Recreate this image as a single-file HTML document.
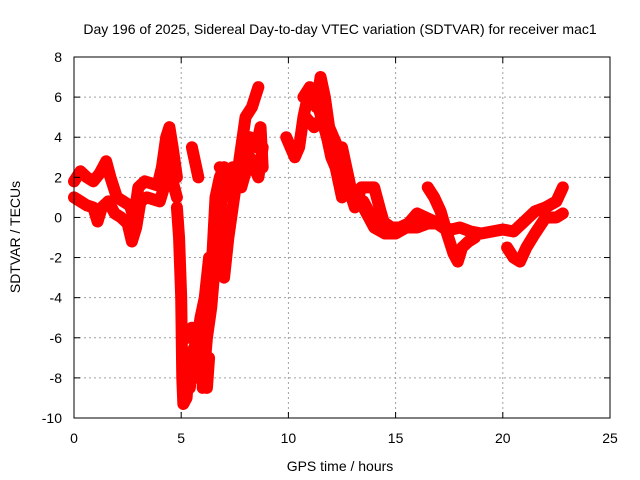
<!DOCTYPE html>
<html><head><meta charset="utf-8"><style>
body{margin:0;background:#fff;}
svg{display:block;font-family:"Liberation Sans",sans-serif;}
</style></head><body>
<svg id="chart" width="640" height="480" viewBox="0 0 640 480" xmlns="http://www.w3.org/2000/svg">
<rect width="640" height="480" fill="#fff"/>
<text x="340" y="34" text-anchor="middle" font-size="14">Day 196 of 2025, Sidereal Day-to-day VTEC variation (SDTVAR) for receiver mac1</text>
<g id="grid"></g>
<g id="series"></g>
<rect x="74" y="57" width="536" height="361" fill="none" stroke="#000" stroke-width="1"/>
<g id="ticks"></g>
<text x="340" y="471" text-anchor="middle" font-size="14">GPS time / hours</text>
<text transform="translate(20,237) rotate(-90)" text-anchor="middle" font-size="14">SDTVAR / TECUs</text>
</svg>
<script>
const xTicks=[0,5,10,15,20,25];
const yTicks=[-10,-8,-6,-4,-2,0,2,4,6,8];
const trackNames=["upper-band","lower-band","dip-a","dip-b","short-a","rise-a","rise-b","main-late","upper-late","bump-17","dip-20","dip-c","dip-d","cluster-8","cluster-11","late-lower"];
const trackT=[
[0,0.3,0.6,0.9,1.2,1.5,1.7,2.0,2.3,2.6,2.8,3.0,3.3,3.6,3.9,4.1,4.3,4.45,4.6,4.8],
[0,0.3,0.6,0.9,1.1,1.3,1.6,1.9,2.2,2.5,2.7,2.9,3.1,3.4,3.7,4.0,4.2,4.4,4.6,4.8],
[4.8,4.9,5.0,5.05,5.1,5.25,5.4,5.6,5.8,6.0,6.2,6.4,6.5,6.6,6.8,7.0],
[6.0,6.2,6.4,6.6,6.8,6.9,7.0],
[5.5,5.6,5.7,5.8],
[6.8,7.0,7.2,7.5,7.8,8.0,8.2,8.5,8.7,8.8],
[7.0,7.2,7.4,7.6,7.8,8.0,8.3,8.6],
[9.9,10.1,10.3,10.5,10.7,10.9,11.1,11.3,11.5,11.7,11.9,12.1,12.3,12.5,12.7,12.9,13.2,13.5,13.8,14.1,14.4,14.8,15.2,15.6,16.0,16.4,16.8,17.2,17.6,18.0,18.5,19.0,19.5,20.0,20.5,21.0,21.5,22.0,22.5,22.8],
[10.7,11.0,11.4,11.8,12.2,12.5,12.8,13.1,13.4,13.7,14.0,14.3,14.6],
[16.5,16.8,17.1,17.4,17.7,17.9,18.1,18.4,18.7],
[20.2,20.5,20.8,21.1,21.5,22.0,22.5,22.8],
[5.2,5.4,5.6,5.8,6.0,6.2,6.3],
[5.1,5.3,5.5,5.7,5.9,6.1,6.3],
[7.0,7.4,7.8,8.2,8.6,8.8],
[10.8,11.2,11.6,12.0,12.4],
[13.5,14.0,14.5,15.0,15.5,16.0,16.5,17.0]
];
const trackV=[
[1.8,2.3,2.0,1.8,2.2,2.8,2.0,1.0,0.8,0.6,0.0,1.5,1.8,1.7,1.6,2.5,4.0,4.5,3.5,2.0],
[1.0,0.8,0.6,0.5,-0.2,0.5,0.8,0.2,0.0,-0.3,-1.2,-0.5,0.8,1.0,0.9,0.8,1.5,2.5,1.8,1.0],
[0.5,-1,-4,-8,-9.3,-9.0,-7,-6.5,-8,-7,-5,-3,-1,1,2,2.5],
[-8.5,-6,-4.5,-2,-0.5,1.5,2.5],
[3.5,3.0,2.5,2.0],
[2.5,2.2,1.5,2.0,3.0,2.5,4.0,3.5,4.5,2.5],
[-3,-1,0.5,2,3.5,5,5.5,6.5],
[4,3.5,3,3.5,5,6,6,5.5,7,6,4.5,4,3.5,3.5,2.5,1.5,1.0,0.8,0.2,-0.5,-0.2,-0.5,-0.5,-0.3,0.2,0.0,-0.2,-0.5,-0.6,-0.5,-0.7,-0.8,-0.7,-0.6,-0.7,-0.2,0.3,0.5,0.8,1.5],
[6,6.5,5.5,4,2.5,1.0,1.5,0.5,1.5,1.5,1.5,0.3,-0.8],
[1.5,1.0,0.3,-0.8,-1.8,-2.2,-1.5,-1.2,-1.0],
[-1.5,-2.0,-2.2,-1.5,-0.8,0,0.0,0.2],
[-7.5,-8.5,-7,-6,-7.5,-8.5,-7],
[-5.5,-6,-5.5,-6.5,-5,-4,-2],
[1.0,2.5,1.5,3.0,2.0,3.5],
[5.0,4.5,5.0,3.0,2.0],
[0.5,-0.5,-0.8,-0.8,-0.5,-0.5,-0.3,-0.3]
];
const X0=74,X1=610,Y0=418,Y1=57;
function xs(t){return X0+(t-0)/(25-0)*(X1-X0);}
function ys(v){return Y0-(v+10)/(8+10)*(Y0-Y1);}
const NS="http://www.w3.org/2000/svg";
const grid=document.getElementById('grid'),ticks=document.getElementById('ticks'),ser=document.getElementById('series');
function mk(tag,attrs,parent){const e=document.createElementNS(NS,tag);for(const k in attrs)e.setAttribute(k,attrs[k]);parent.appendChild(e);return e;}
xTicks.forEach(t=>{
  const x=xs(t);
  if(t>0&&t<25){const g=mk('line',{x1:x,x2:x,y1:Y1,y2:Y0,stroke:'#a0a0a0','stroke-dasharray':'2,3'},grid);
  
  }
  mk('line',{x1:x,x2:x,y1:Y0,y2:Y0-6,stroke:'#000'},ticks);
  mk('line',{x1:x,x2:x,y1:Y1,y2:Y1+6,stroke:'#000'},ticks);
  const l=mk('text',{x:x,y:443,'text-anchor':'middle','font-size':'14'},ticks);l.textContent=t;
  
  
});
yTicks.forEach(v=>{
  const y=ys(v);
  if(v>-10&&v<8){const g=mk('line',{x1:X0,x2:X1,y1:y,y2:y,stroke:'#a0a0a0','stroke-dasharray':'2,3'},grid);
  
  }
  mk('line',{x1:X0,x2:X0+6,y1:y,y2:y,stroke:'#000'},ticks);
  mk('line',{x1:X1,x2:X1-6,y1:y,y2:y,stroke:'#000'},ticks);
  const l=mk('text',{x:62,y:y+5,'text-anchor':'end','font-size':'14'},ticks);l.textContent=v;
  
  
});
trackT.forEach((ts,i)=>{
  const vs=trackV[i];
  const pts=ts.map((t,j)=>xs(t)+','+ys(vs[j])).join(' ');
  const pl=mk('polyline',{points:pts,fill:'none',stroke:'#ff0000','stroke-width':'12','stroke-linejoin':'round','stroke-linecap':'round'},ser);
  
  
  ts.forEach((t,j)=>{
    const x=xs(t),y=ys(vs[j]);
    const p=mk('path',{d:`M${x-4},${y}h8M${x},${y-4}v8`,stroke:'#ff0000','stroke-width':'1.5'},ser);
    
    
  });
});
</script>
</body></html>
